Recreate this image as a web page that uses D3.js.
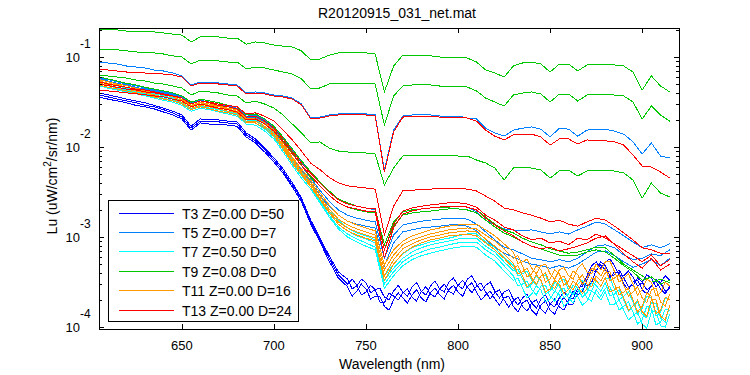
<!DOCTYPE html>
<html><head><meta charset="utf-8">
<script src="https://cdn.jsdelivr.net/npm/d3@7"></script>
<style>body{margin:0;background:#fff}text{font-family:"Liberation Sans",Arial,Helvetica,sans-serif}</style>
</head><body>
<svg id="chart" width="750" height="375"></svg>
<script>
// ---- data (Lu, uW/cm^2/sr/nm) ----
const wavelength = [605,610,615,620,625,630,635,640,645,650,655,660,665,670,675,680,685,690,695,700,705,710,715,720,725,730,735,740,745,750,755,760,765,770,775,780,785,790,795,800,805,810,815,820,825,830,835,840,845,850,855,860,865,870,875,880,885,890,895,900,905,910,915];
// extra samples between grid points where the low casts are noisy
const midWavelengthT3 = [742.5,747.5,752.5,757.5,762.5,767.5,772.5,777.5,782.5,787.5,792.5,797.5,802.5,807.5,812.5,817.5,822.5,827.5,832.5,837.5,842.5,847.5,852.5,857.5,862.5,867.5,872.5,877.5,882.5,887.5,892.5,897.5,902.5,907.5,912.5];
const midWavelengthTail = [832.5,837.5,842.5,847.5,852.5,857.5,862.5,867.5,872.5,877.5,882.5,887.5,892.5,897.5,902.5,907.5,912.5];

const t3_a = [4.0e-2,3.8e-2,3.6e-2,3.4e-2,3.25e-2,3.1e-2,2.9e-2,2.7e-2,2.5e-2,2.27e-2,1.7e-2,2.05e-2,2.0e-2,2.0e-2,1.94e-2,1.9e-2,1.43e-2,1.23e-2,9.7e-3,7.6e-3,5.7e-3,4.0e-3,2.7e-3,1.54e-3,9.7e-4,6.2e-4,4.1e-4,3.4e-4,2.85e-4,3.1e-4,2.6e-4,2.15e-4,2.5e-4,2.45e-4,2.8e-4,2.5e-4,2.85e-4,2.65e-4,3.15e-4,2.9e-4,3.4e-4,3.0e-4,2.9e-4,2.5e-4,2.45e-4,2.05e-4,2.1e-4,1.85e-4,2.05e-4,1.8e-4,2.1e-4,2.1e-4,2.7e-4,3.7e-4,5.3e-4,5.3e-4,4.8e-4,3.7e-4,3.6e-4,3.1e-4,3.5e-4,3.1e-4,3.3e-4];
const t3_b = [3.8e-2,3.6e-2,3.4e-2,3.25e-2,3.1e-2,2.9e-2,2.8e-2,2.6e-2,2.4e-2,2.15e-2,1.62e-2,1.94e-2,1.9e-2,1.9e-2,1.85e-2,1.8e-2,1.36e-2,1.17e-2,9.3e-3,7.2e-3,5.4e-3,3.8e-3,2.6e-3,1.47e-3,9.3e-4,5.8e-4,3.8e-4,3.0e-4,2.9e-4,2.45e-4,2.6e-4,1.85e-4,2.2e-4,2.4e-4,2.15e-4,2.45e-4,2.33e-4,2.65e-4,2.5e-4,2.9e-4,2.8e-4,2.85e-4,2.45e-4,2.4e-4,2.0e-4,1.94e-4,1.7e-4,1.85e-4,1.58e-4,1.8e-4,1.67e-4,2.0e-4,2.27e-4,3.3e-4,4.1e-4,4.8e-4,3.8e-4,3.5e-4,2.9e-4,3.15e-4,2.8e-4,3.1e-4,2.7e-4];
const t3_c = [3.6e-2,3.4e-2,3.25e-2,3.1e-2,2.9e-2,2.8e-2,2.65e-2,2.45e-2,2.27e-2,2.05e-2,1.54e-2,1.85e-2,1.8e-2,1.8e-2,1.75e-2,1.7e-2,1.29e-2,1.11e-2,8.8e-3,6.8e-3,5.1e-3,3.6e-3,2.45e-3,1.39e-3,8.8e-4,5.4e-4,3.5e-4,2.8e-4,2.5e-4,2.65e-4,2.2e-4,1.7e-4,2.0e-4,2.1e-4,2.27e-4,2.1e-4,2.4e-4,2.27e-4,2.6e-4,2.45e-4,2.8e-4,2.45e-4,2.27e-4,2.05e-4,2.1e-4,1.7e-4,1.85e-4,1.54e-4,1.75e-4,1.54e-4,1.8e-4,1.8e-4,2.45e-4,2.85e-4,4.3e-4,4.3e-4,4.1e-4,3.0e-4,3.15e-4,2.6e-4,2.9e-4,2.65e-4,2.85e-4];
const t3_a_mid = [2.65e-4,3.4e-4,2.4e-4,2.7e-4,2.0e-4,2.9e-4,2.2e-4,3.1e-4,2.27e-4,3.25e-4,2.45e-4,3.5e-4,2.65e-4,3.7e-4,2.5e-4,3.15e-4,2.1e-4,2.6e-4,1.75e-4,2.33e-4,1.62e-4,2.27e-4,1.67e-4,2.45e-4,2.05e-4,2.85e-4,4.8e-4,4.5e-4,5.7e-4,3.7e-4,4.2e-4,2.85e-4,3.8e-4,2.8e-4,3.7e-4];
const t3_b_mid = [3.4e-4,2.27e-4,2.9e-4,1.9e-4,2.4e-4,2.0e-4,2.65e-4,1.94e-4,2.8e-4,2.15e-4,3.0e-4,2.33e-4,3.3e-4,2.4e-4,3.1e-4,2.05e-4,2.6e-4,1.67e-4,2.15e-4,1.5e-4,2.0e-4,1.43e-4,2.05e-4,1.54e-4,2.5e-4,2.45e-4,4.3e-4,5.3e-4,3.7e-4,4.3e-4,2.8e-4,3.5e-4,2.6e-4,3.4e-4,2.5e-4];
const t3_c_mid = [2.2e-4,3.0e-4,2.05e-4,2.2e-4,1.54e-4,2.4e-4,1.85e-4,2.6e-4,1.9e-4,2.7e-4,2.05e-4,2.9e-4,2.2e-4,3.1e-4,2.0e-4,2.5e-4,1.75e-4,2.2e-4,1.47e-4,2.0e-4,1.36e-4,1.94e-4,1.39e-4,2.15e-4,1.8e-4,3.15e-4,3.1e-4,4.9e-4,3.5e-4,4.0e-4,2.6e-4,3.3e-4,2.33e-4,3.25e-4,2.33e-4];

const t5_a = [0.088,0.0858,0.0836,0.0794,0.0774,0.0755,0.0717,0.0699,0.0664,0.0615,0.0489,0.0527,0.0527,0.0514,0.0501,0.0489,0.0398,0.0409,0.0398,0.0378,0.0369,0.035,0.030,0.021,0.0215,0.0227,0.0233,0.0233,0.0233,0.0233,0.0227,0.00555,0.0154,0.0221,0.0227,0.0227,0.0227,0.0221,0.0221,0.0221,0.021,0.0205,0.0162,0.0143,0.0132,0.0154,0.0162,0.0167,0.0158,0.0129,0.0162,0.0158,0.0132,0.0154,0.0158,0.0158,0.015,0.0139,0.0114,0.00836,0.0111,0.00794,0.00755];
const t5_b = [5.8e-2,5.6e-2,5.3e-2,5.0e-2,4.8e-2,4.5e-2,4.3e-2,4.1e-2,3.9e-2,3.6e-2,3.1e-2,3.3e-2,3.15e-2,3.0e-2,2.85e-2,2.7e-2,2.2e-2,2.27e-2,2.0e-2,1.67e-2,1.26e-2,9.3e-3,6.8e-3,5.1e-3,4.1e-3,3.25e-3,2.65e-3,2.4e-3,2.2e-3,2.1e-3,2.0e-3,8.2e-4,1.47e-3,1.9e-3,2.0e-3,2.05e-3,2.1e-3,2.15e-3,2.2e-3,2.2e-3,2.15e-3,1.9e-3,1.54e-3,1.36e-3,1.23e-3,1.2e-3,1.17e-3,1.2e-3,1.14e-3,1.08e-3,1.14e-3,1.08e-3,1.2e-3,1.32e-3,1.47e-3,1.39e-3,1.2e-3,1.03e-3,8.8e-4,7.6e-4,8.2e-4,7.6e-4,8.4e-4];
const t5_c = [5.7e-2,5.4e-2,5.1e-2,4.9e-2,4.6e-2,4.4e-2,4.2e-2,4.0e-2,3.8e-2,3.5e-2,3.0e-2,3.25e-2,3.1e-2,2.9e-2,2.8e-2,2.65e-2,2.15e-2,2.2e-2,1.9e-2,1.58e-2,1.17e-2,8.4e-3,6.2e-3,4.5e-3,3.3e-3,2.5e-3,2.0e-3,1.75e-3,1.62e-3,1.54e-3,1.47e-3,5.8e-4,1.05e-3,1.36e-3,1.43e-3,1.5e-3,1.54e-3,1.58e-3,1.62e-3,1.62e-3,1.58e-3,1.39e-3,1.14e-3,9.3e-4,7.7e-4,7.2e-4,6.5e-4,5.8e-4,5.6e-4,5.3e-4,5.6e-4,5.3e-4,5.8e-4,6.8e-4,7.9e-4,8.2e-4,7.6e-4,6.3e-4,5.6e-4,5.8e-4,6.5e-4,6.2e-4,7.2e-4];
const t5_d = [5.6e-2,5.3e-2,5.0e-2,4.8e-2,4.5e-2,4.3e-2,4.1e-2,3.9e-2,3.7e-2,3.4e-2,2.9e-2,3.15e-2,3.0e-2,2.85e-2,2.7e-2,2.6e-2,2.1e-2,2.15e-2,1.85e-2,1.5e-2,1.11e-2,7.7e-3,5.6e-3,4.1e-3,2.9e-3,2.2e-3,1.75e-3,1.5e-3,1.39e-3,1.32e-3,1.26e-3,4.8e-4,8.6e-4,1.14e-3,1.2e-3,1.26e-3,1.29e-3,1.32e-3,1.36e-3,1.36e-3,1.32e-3,1.17e-3,9.3e-4,7.7e-4,6.6e-4,6.0e-4,5.4e-4,5.0e-4,4.8e-4,4.5e-4,4.8e-4,4.5e-4,5.0e-4,5.8e-4,6.8e-4,7.0e-4,6.2e-4,5.3e-4,4.6e-4,5.0e-4,5.6e-4,4.8e-4,5.8e-4];

const t7_a = [5.4e-2,5.1e-2,4.9e-2,4.6e-2,4.4e-2,4.2e-2,4.0e-2,3.8e-2,3.6e-2,3.3e-2,2.85e-2,3.1e-2,2.9e-2,2.8e-2,2.65e-2,2.5e-2,2.05e-2,2.0e-2,1.7e-2,1.43e-2,1.03e-2,7.2e-3,5.3e-3,4.0e-3,2.85e-3,2.05e-3,1.54e-3,1.26e-3,1.11e-3,1.03e-3,9.3e-4,3.7e-4,5.0e-4,6.5e-4,7.6e-4,8.2e-4,8.8e-4,9.3e-4,9.7e-4,1.03e-3,1.08e-3,1.08e-3,8.8e-4,7.6e-4,6.0e-4,4.8e-4,3.9e-4,3.3e-4,3.7e-4,2.85e-4,3.15e-4,2.6e-4,3.0e-4,2.65e-4,3.3e-4,3.5e-4,2.6e-4,2.2e-4,1.9e-4,1.62e-4,2.1e-4,1.47e-4,2.0e-4];
const t7_b = [5.3e-2,5.0e-2,4.8e-2,4.5e-2,4.3e-2,4.1e-2,3.9e-2,3.7e-2,3.5e-2,3.25e-2,2.8e-2,3.0e-2,2.85e-2,2.7e-2,2.6e-2,2.45e-2,2.0e-2,1.94e-2,1.67e-2,1.36e-2,9.7e-3,6.8e-3,5.0e-3,3.8e-3,2.65e-3,1.9e-3,1.39e-3,1.17e-3,1.03e-3,9.5e-4,8.6e-4,3.3e-4,4.5e-4,5.8e-4,6.8e-4,7.6e-4,8.2e-4,8.6e-4,9.0e-4,9.5e-4,9.7e-4,9.7e-4,7.9e-4,6.8e-4,5.3e-4,4.2e-4,3.4e-4,3.0e-4,3.25e-4,2.5e-4,2.85e-4,2.33e-4,2.7e-4,2.4e-4,2.9e-4,3.1e-4,2.33e-4,2.0e-4,1.7e-4,1.39e-4,1.85e-4,1.26e-4,1.75e-4];
const t7_c = [5.0e-2,4.8e-2,4.5e-2,4.3e-2,4.1e-2,3.9e-2,3.7e-2,3.5e-2,3.3e-2,3.1e-2,2.65e-2,2.85e-2,2.7e-2,2.6e-2,2.45e-2,2.33e-2,1.9e-2,1.85e-2,1.58e-2,1.29e-2,9.3e-3,6.5e-3,4.8e-3,3.6e-3,2.5e-3,1.75e-3,1.29e-3,1.08e-3,9.5e-4,8.6e-4,7.7e-4,3.0e-4,4.1e-4,5.3e-4,6.2e-4,6.8e-4,7.4e-4,7.7e-4,8.2e-4,8.6e-4,8.8e-4,8.8e-4,7.2e-4,6.2e-4,4.8e-4,3.7e-4,3.0e-4,2.6e-4,2.85e-4,2.2e-4,2.5e-4,2.1e-4,2.45e-4,2.1e-4,2.6e-4,2.7e-4,2.05e-4,1.7e-4,1.47e-4,1.2e-4,1.62e-4,1.14e-4,1.54e-4];
const t7_d = [4.8e-2,4.5e-2,4.3e-2,4.1e-2,3.9e-2,3.7e-2,3.5e-2,3.3e-2,3.15e-2,2.9e-2,2.5e-2,2.7e-2,2.6e-2,2.45e-2,2.33e-2,2.2e-2,1.8e-2,1.75e-2,1.5e-2,1.23e-2,8.8e-3,6.2e-3,4.5e-3,3.4e-3,2.4e-3,1.67e-3,1.23e-3,1.0e-3,8.8e-4,7.9e-4,7.2e-4,2.7e-4,3.7e-4,4.8e-4,5.6e-4,6.2e-4,6.6e-4,7.0e-4,7.4e-4,7.7e-4,7.9e-4,7.7e-4,6.3e-4,5.4e-4,4.2e-4,3.3e-4,2.7e-4,2.33e-4,2.6e-4,2.05e-4,2.27e-4,1.9e-4,2.2e-4,1.94e-4,2.33e-4,2.45e-4,1.8e-4,1.54e-4,1.32e-4,1.08e-4,1.47e-4,1.03e-4,1.39e-4];
const t7_a_mid = [3.7e-4,4.2e-4,2.9e-4,3.8e-4,2.45e-4,3.4e-4,2.27e-4,3.3e-4,2.5e-4,2.85e-4,3.5e-4,2.0e-4,2.45e-4,1.39e-4,2.2e-4,1.32e-4,2.1e-4];
const t7_b_mid = [4.4e-4,2.7e-4,3.7e-4,2.33e-4,3.15e-4,2.1e-4,2.9e-4,2.15e-4,3.1e-4,2.5e-4,2.2e-4,2.6e-4,1.5e-4,1.9e-4,1.26e-4,1.8e-4,1.14e-4];
const t7_c_mid = [2.85e-4,3.25e-4,2.27e-4,2.9e-4,1.94e-4,2.7e-4,1.85e-4,2.65e-4,1.94e-4,2.2e-4,2.8e-4,1.54e-4,1.9e-4,1.08e-4,1.7e-4,1.05e-4,1.58e-4];
const t7_d_mid = [3.5e-4,2.1e-4,2.85e-4,1.9e-4,2.5e-4,1.7e-4,2.4e-4,1.75e-4,2.5e-4,2.0e-4,1.75e-4,2.0e-4,1.2e-4,1.47e-4,9.7e-5,1.5e-4,1.0e-4];

const t9_a = [0.205,0.200,0.200,0.194,0.194,0.190,0.190,0.185,0.180,0.175,0.147,0.167,0.167,0.167,0.162,0.162,0.139,0.147,0.143,0.136,0.132,0.129,0.117,0.0926,0.095,0.105,0.111,0.111,0.111,0.111,0.108,0.0409,0.0794,0.105,0.105,0.103,0.103,0.100,0.100,0.0975,0.0975,0.088,0.0717,0.0664,0.0599,0.0794,0.0858,0.088,0.0836,0.0681,0.0836,0.0836,0.0699,0.0815,0.0836,0.0836,0.0815,0.0794,0.0681,0.0430,0.0615,0.0476,0.0409];
const t9_b = [0.123,0.120,0.120,0.117,0.114,0.111,0.111,0.108,0.103,0.100,0.0836,0.0926,0.0926,0.0903,0.088,0.088,0.0736,0.0774,0.0755,0.0717,0.0681,0.0647,0.057,0.0441,0.0453,0.0501,0.0514,0.0514,0.0514,0.0514,0.0501,0.0175,0.0369,0.0476,0.0489,0.0489,0.0489,0.0476,0.0476,0.0476,0.0464,0.0419,0.035,0.0316,0.0285,0.0378,0.0398,0.0409,0.0388,0.0316,0.0388,0.0388,0.0324,0.0378,0.0388,0.0388,0.0378,0.0369,0.0316,0.0205,0.0285,0.0227,0.0194];
const t9_c = [0.0631,0.0615,0.0599,0.0584,0.0555,0.0541,0.0514,0.0501,0.0476,0.0453,0.0378,0.0419,0.0409,0.0398,0.0378,0.0369,0.0308,0.0324,0.030,0.0271,0.0227,0.018,0.0143,0.0111,0.0114,0.00975,0.00903,0.0088,0.0088,0.00858,0.00836,0.00378,0.00584,0.00794,0.00815,0.00815,0.00815,0.00815,0.00815,0.00794,0.00794,0.00717,0.00664,0.00584,0.0043,0.00584,0.00599,0.00584,0.00555,0.00453,0.00541,0.00555,0.00476,0.00541,0.00555,0.00555,0.00541,0.00514,0.0043,0.00271,0.00398,0.00308,0.00278];
const t9_d = [6.0e-2,5.7e-2,5.4e-2,5.1e-2,4.9e-2,4.6e-2,4.4e-2,4.2e-2,4.0e-2,3.7e-2,3.15e-2,3.4e-2,3.25e-2,3.1e-2,2.9e-2,2.8e-2,2.27e-2,2.33e-2,2.05e-2,1.7e-2,1.29e-2,9.5e-3,7.0e-3,5.3e-3,4.1e-3,3.25e-3,2.65e-3,2.4e-3,2.2e-3,2.1e-3,2.05e-3,8.2e-4,1.47e-3,1.9e-3,2.0e-3,2.05e-3,2.1e-3,2.15e-3,2.15e-3,2.2e-3,2.15e-3,2.0e-3,1.67e-3,1.39e-3,1.2e-3,1.11e-3,9.7e-4,8.8e-4,8.2e-4,7.4e-4,7.0e-4,6.6e-4,6.8e-4,7.2e-4,7.7e-4,7.6e-4,6.2e-4,5.0e-4,4.3e-4,3.7e-4,3.15e-4,3.4e-4,3.1e-4];
const t9_e = [5.6e-2,5.3e-2,5.0e-2,4.8e-2,4.5e-2,4.3e-2,4.1e-2,3.9e-2,3.7e-2,3.4e-2,2.85e-2,3.1e-2,2.9e-2,2.8e-2,2.65e-2,2.5e-2,2.05e-2,2.1e-2,1.85e-2,1.54e-2,1.17e-2,8.6e-3,6.3e-3,4.6e-3,3.7e-3,2.9e-3,2.4e-3,2.15e-3,2.0e-3,1.9e-3,1.85e-3,7.2e-4,1.32e-3,1.75e-3,1.85e-3,1.9e-3,1.94e-3,2.0e-3,2.05e-3,2.05e-3,2.0e-3,1.85e-3,1.54e-3,1.29e-3,1.11e-3,1.0e-3,8.8e-4,7.9e-4,7.4e-4,6.8e-4,6.3e-4,6.2e-4,6.3e-4,6.8e-4,7.2e-4,6.8e-4,5.8e-4,4.8e-4,4.1e-4,3.3e-4,3.6e-4,3.0e-4,3.3e-4];

const t11_a = [5.6e-2,5.3e-2,5.0e-2,4.8e-2,4.5e-2,4.3e-2,4.1e-2,3.9e-2,3.7e-2,3.4e-2,2.9e-2,3.15e-2,3.0e-2,2.85e-2,2.7e-2,2.6e-2,2.1e-2,2.1e-2,1.85e-2,1.54e-2,1.11e-2,7.7e-3,5.7e-3,4.3e-3,3.1e-3,2.27e-3,1.75e-3,1.5e-3,1.36e-3,1.26e-3,1.17e-3,4.9e-4,7.2e-4,9.0e-4,1.03e-3,1.11e-3,1.2e-3,1.26e-3,1.32e-3,1.36e-3,1.39e-3,1.39e-3,1.2e-3,1.03e-3,8.4e-4,6.8e-4,5.3e-4,4.5e-4,4.8e-4,3.9e-4,4.3e-4,3.7e-4,4.5e-4,4.1e-4,5.0e-4,5.3e-4,4.1e-4,3.5e-4,3.0e-4,2.6e-4,3.15e-4,2.4e-4,2.85e-4];
const t11_b = [5.4e-2,5.1e-2,4.9e-2,4.6e-2,4.4e-2,4.2e-2,4.0e-2,3.8e-2,3.6e-2,3.3e-2,2.85e-2,3.1e-2,2.9e-2,2.8e-2,2.65e-2,2.5e-2,2.05e-2,2.05e-2,1.8e-2,1.47e-2,1.05e-2,7.4e-3,5.4e-3,4.0e-3,2.85e-3,2.05e-3,1.58e-3,1.36e-3,1.23e-3,1.14e-3,1.05e-3,4.3e-4,6.3e-4,8.2e-4,9.3e-4,1.0e-3,1.08e-3,1.14e-3,1.2e-3,1.23e-3,1.26e-3,1.23e-3,1.05e-3,9.0e-4,7.4e-4,5.8e-4,4.8e-4,3.9e-4,4.3e-4,3.4e-4,3.9e-4,3.25e-4,3.8e-4,3.4e-4,4.3e-4,4.5e-4,3.5e-4,2.9e-4,2.45e-4,2.1e-4,2.6e-4,1.9e-4,2.33e-4];
const t11_c = [5.1e-2,4.9e-2,4.6e-2,4.4e-2,4.2e-2,4.0e-2,3.8e-2,3.6e-2,3.4e-2,3.15e-2,2.7e-2,2.9e-2,2.8e-2,2.65e-2,2.5e-2,2.4e-2,1.94e-2,1.94e-2,1.7e-2,1.39e-2,1.0e-2,7.0e-3,5.1e-3,3.8e-3,2.7e-3,1.94e-3,1.47e-3,1.26e-3,1.14e-3,1.05e-3,9.7e-4,3.7e-4,5.6e-4,7.4e-4,8.4e-4,9.3e-4,1.0e-3,1.05e-3,1.11e-3,1.14e-3,1.17e-3,1.14e-3,9.5e-4,7.9e-4,6.5e-4,5.1e-4,4.1e-4,3.5e-4,3.7e-4,3.0e-4,3.4e-4,2.85e-4,3.3e-4,3.0e-4,3.7e-4,4.0e-4,3.0e-4,2.45e-4,2.0e-4,1.7e-4,2.2e-4,1.54e-4,2.0e-4];
const t11_d = [4.9e-2,4.6e-2,4.4e-2,4.2e-2,4.0e-2,3.8e-2,3.6e-2,3.4e-2,3.25e-2,3.0e-2,2.6e-2,2.8e-2,2.65e-2,2.5e-2,2.4e-2,2.27e-2,1.85e-2,1.85e-2,1.62e-2,1.32e-2,9.5e-3,6.6e-3,4.9e-3,3.6e-3,2.6e-3,1.85e-3,1.39e-3,1.17e-3,1.05e-3,9.7e-4,9.0e-4,3.3e-4,5.0e-4,6.6e-4,7.7e-4,8.6e-4,9.3e-4,9.7e-4,1.03e-3,1.05e-3,1.08e-3,1.03e-3,8.6e-4,7.2e-4,5.8e-4,4.5e-4,3.7e-4,3.1e-4,3.3e-4,2.65e-4,3.0e-4,2.6e-4,2.9e-4,2.65e-4,3.3e-4,3.5e-4,2.6e-4,2.1e-4,1.7e-4,1.47e-4,2.0e-4,1.32e-4,1.75e-4];
const t11_a_mid = [5.1e-4,5.7e-4,3.9e-4,5.0e-4,3.4e-4,4.6e-4,3.4e-4,5.0e-4,3.9e-4,4.3e-4,5.4e-4,3.15e-4,3.9e-4,2.27e-4,3.4e-4,2.2e-4,3.15e-4];
const t11_b_mid = [6.2e-4,3.6e-4,4.8e-4,3.15e-4,4.3e-4,2.9e-4,4.2e-4,3.0e-4,4.5e-4,3.7e-4,3.25e-4,3.8e-4,2.2e-4,2.8e-4,1.85e-4,2.7e-4,1.7e-4];
const t11_c_mid = [3.9e-4,4.5e-4,3.0e-4,4.0e-4,2.65e-4,3.7e-4,2.6e-4,3.8e-4,2.8e-4,3.25e-4,4.1e-4,2.27e-4,2.7e-4,1.47e-4,2.4e-4,1.39e-4,2.15e-4];
const t11_d_mid = [4.8e-4,2.8e-4,3.8e-4,2.45e-4,3.3e-4,2.33e-4,3.25e-4,2.33e-4,3.5e-4,2.85e-4,2.45e-4,2.8e-4,1.54e-4,2.0e-4,1.32e-4,2.0e-4,1.2e-4];

const t13_a = [0.0736,0.0717,0.0699,0.0681,0.0681,0.0664,0.0664,0.0647,0.0631,0.0599,0.0476,0.0514,0.0514,0.0501,0.0489,0.0476,0.0388,0.0398,0.0388,0.0369,0.0359,0.0341,0.0293,0.0205,0.021,0.0221,0.0227,0.0227,0.0227,0.0227,0.0221,0.00527,0.0147,0.0215,0.0221,0.0221,0.0221,0.0215,0.0215,0.0215,0.021,0.0194,0.0154,0.0132,0.012,0.0136,0.0139,0.0139,0.0129,0.0105,0.0123,0.0123,0.0108,0.012,0.0117,0.0117,0.0114,0.0105,0.00815,0.00615,0.00599,0.00527,0.00453];
const t13_b = [5.0e-2,4.8e-2,4.6e-2,4.4e-2,4.3e-2,4.1e-2,4.0e-2,3.8e-2,3.7e-2,3.5e-2,3.0e-2,3.25e-2,3.15e-2,3.0e-2,2.9e-2,2.8e-2,2.33e-2,2.4e-2,2.2e-2,1.94e-2,1.54e-2,1.2e-2,9.0e-3,6.6e-3,5.6e-3,4.6e-3,4.0e-3,3.7e-3,3.6e-3,3.5e-3,3.4e-3,1.05e-3,2.2e-3,3.25e-3,3.3e-3,3.4e-3,3.4e-3,3.5e-3,3.5e-3,3.5e-3,3.4e-3,3.25e-3,2.85e-3,2.5e-3,2.1e-3,2.0e-3,1.85e-3,1.75e-3,1.62e-3,1.47e-3,1.54e-3,1.39e-3,1.32e-3,1.47e-3,1.62e-3,1.54e-3,1.32e-3,1.11e-3,9.3e-4,7.6e-4,7.2e-4,6.6e-4,6.6e-4];
const t13_c = [5.3e-2,5.0e-2,4.8e-2,4.6e-2,4.4e-2,4.3e-2,4.1e-2,3.9e-2,3.7e-2,3.5e-2,3.0e-2,3.25e-2,3.1e-2,2.9e-2,2.8e-2,2.65e-2,2.15e-2,2.2e-2,1.94e-2,1.62e-2,1.23e-2,9.0e-3,6.6e-3,5.1e-3,4.0e-3,3.15e-3,2.6e-3,2.33e-3,2.2e-3,2.1e-3,2.05e-3,7.2e-4,1.39e-3,1.94e-3,2.1e-3,2.2e-3,2.27e-3,2.33e-3,2.4e-3,2.4e-3,2.33e-3,2.15e-3,1.75e-3,1.54e-3,1.29e-3,1.2e-3,1.03e-3,9.3e-4,9.7e-4,8.6e-4,9.0e-4,8.2e-4,9.7e-4,9.3e-4,1.08e-3,9.7e-4,8.4e-4,7.2e-4,6.2e-4,5.3e-4,6.3e-4,4.8e-4,5.6e-4];
const t13_d = [4.3e-2,4.2e-2,4.1e-2,4.0e-2,3.9e-2,3.8e-2,3.7e-2,3.6e-2,3.4e-2,3.25e-2,2.8e-2,3.0e-2,2.85e-2,2.7e-2,2.6e-2,2.45e-2,2.0e-2,2.05e-2,1.8e-2,1.5e-2,1.14e-2,8.4e-3,6.2e-3,4.8e-3,3.7e-3,2.9e-3,2.4e-3,2.15e-3,2.05e-3,1.94e-3,1.9e-3,5.8e-4,1.26e-3,1.8e-3,1.94e-3,2.05e-3,2.1e-3,2.15e-3,2.2e-3,2.2e-3,2.15e-3,2.0e-3,1.62e-3,1.36e-3,1.17e-3,1.03e-3,8.8e-4,7.9e-4,7.4e-4,7.7e-4,7.0e-4,7.4e-4,7.9e-4,8.6e-4,9.7e-4,1.03e-3,8.2e-4,6.5e-4,5.3e-4,4.5e-4,5.8e-4,4.3e-4,5.0e-4];

const seriesNames = ["T3 Z=0.00 D=50","T5 Z=0.00 D=7","T7 Z=0.50 D=0","T9 Z=0.08 D=0","T11 Z=0.00 D=16","T13 Z=0.00 D=24"];
const seriesCasts = [[t3_a,t3_b,t3_c],[t5_a,t5_b,t5_c,t5_d],[t7_a,t7_b,t7_c,t7_d],[t9_a,t9_b,t9_c,t9_d,t9_e],[t11_a,t11_b,t11_c,t11_d],[t13_a,t13_b,t13_c,t13_d]];
const seriesMidCasts = [[t3_a_mid,t3_b_mid,t3_c_mid],[],[t7_a_mid,t7_b_mid,t7_c_mid,t7_d_mid],[],[t11_a_mid,t11_b_mid,t11_c_mid,t11_d_mid],[]];
const seriesMidGrid = [midWavelengthT3,null,midWavelengthTail,null,midWavelengthTail,null];
const xTickValues = [650,700,750,800,850,900];
const yDecades = [1e-4,1e-3,1e-2,1e-1];
const yDecadeExponents = ["-4","-3","-2","-1"];
const titleText = "R20120915_031_net.mat";
const xLabelText = "Wavelength (nm)";

// ---- styles ----
const seriesColors = ["#0000ff","#0080ff","#00ffff","#00c800","#ff9900","#ff0000"];

// ---- layout ----
const L = 99, R = 679, T = 28, B = 329;
const svg = d3.select("#chart");
svg.append("rect").attr("width",750).attr("height",375).attr("fill","#fff");

const x = d3.scaleLinear().domain([605, 920]).range([L, R]);
const y = d3.scaleLog().domain([9.5012e-5, 0.21006]).range([B, T]);

svg.append("defs").append("clipPath").attr("id","clip")
  .append("rect").attr("x",L).attr("y",T).attr("width",R-L+1).attr("height",B-T+1);

const plot = svg.append("g").attr("clip-path","url(#clip)");
const line = d3.line().x(d=>x(d[0])).y(d=>y(d[1]));
seriesCasts.forEach((casts, si) => {
  casts.forEach((c, ci) => {
    let pts = wavelength.map((w,i)=>[w, c[i]]);
    const mid = seriesMidCasts[si][ci];
    if (mid) pts = pts.concat(seriesMidGrid[si].map((w,i)=>[w, mid[i]]));
    pts.sort((a,b)=>a[0]-b[0]);
    plot.append("path").attr("d", line(pts)).attr("fill","none")
      .attr("stroke", seriesColors[si]).attr("stroke-width",1)
      .attr("shape-rendering","crispEdges");
  });
});

// minor ticks
const yMinor = [];
[1e-4,1e-3,1e-2,1e-1].forEach(dec => { for (let k=2;k<=9;k++){ const v=k*dec; if (v>=y.domain()[0] && v<=y.domain()[1]) yMinor.push(v);} });

function styleAxis(g){ g.select(".domain").remove(); g.selectAll("line").attr("stroke","#000").attr("shape-rendering","crispEdges"); g.selectAll("text").remove(); }

svg.append("g").attr("transform",`translate(0,${B})`).call(d3.axisBottom(x).tickValues(xTickValues).tickSizeInner(-5).tickSizeOuter(0)).call(styleAxis);
svg.append("g").attr("transform",`translate(0,${T})`).call(d3.axisTop(x).tickValues(xTickValues).tickSizeInner(-5).tickSizeOuter(0)).call(styleAxis);
svg.append("g").attr("transform",`translate(${L},0)`).call(d3.axisLeft(y).tickValues(yDecades).tickSizeInner(-5).tickSizeOuter(0)).call(styleAxis);
svg.append("g").attr("transform",`translate(${L},0)`).call(d3.axisLeft(y).tickValues(yMinor).tickSizeInner(-3).tickSizeOuter(0)).call(styleAxis);
svg.append("g").attr("transform",`translate(${R},0)`).call(d3.axisRight(y).tickValues(yDecades).tickSizeInner(-5).tickSizeOuter(0)).call(styleAxis);
svg.append("g").attr("transform",`translate(${R},0)`).call(d3.axisRight(y).tickValues(yMinor).tickSizeInner(-3).tickSizeOuter(0)).call(styleAxis);

// frame
svg.append("rect").attr("x",L+0.5).attr("y",T+0.5).attr("width",R-L).attr("height",B-T)
  .attr("fill","none").attr("stroke","#000").attr("stroke-width",1).attr("shape-rendering","crispEdges");

// x tick labels
svg.append("g").selectAll("text").data(xTickValues).join("text")
  .attr("x", d=>x(d)).attr("y", 350).attr("text-anchor","middle")
  .attr("font-size",13).attr("fill","#000").text(d=>d);

// y tick labels (10^n)
yDecades.forEach((v,i) => {
  const py = y(v);
  svg.append("text").attr("x",80).attr("y",py+4.5).attr("text-anchor","end")
    .attr("font-size",13).attr("fill","#000").text("10");
  svg.append("text").attr("x",80).attr("y",py-9.5).attr("text-anchor","start")
    .attr("font-size",12).attr("fill","#000").text(yDecadeExponents[i]);
});

// title & labels
svg.append("text").attr("x",397).attr("y",18).attr("text-anchor","middle")
  .attr("font-size",14).attr("fill","#000").text(titleText);
svg.append("text").attr("x",392).attr("y",369).attr("text-anchor","middle")
  .attr("font-size",14).attr("fill","#000").text(xLabelText);
const yl = svg.append("text").attr("transform","translate(57,176) rotate(-90)")
  .attr("text-anchor","middle").attr("font-size",14).attr("fill","#000");
yl.append("tspan").text("Lu (uW/cm");
yl.append("tspan").attr("dy",-6).attr("font-size",10).text("2");
yl.append("tspan").attr("dy",6).text("/sr/nm)");

// legend
const lg = svg.append("g");
lg.append("rect").attr("x",108.5).attr("y",200.5).attr("width",190).attr("height",121)
  .attr("fill","#fff").attr("stroke","#000").attr("stroke-width",1).attr("shape-rendering","crispEdges");
seriesNames.forEach((name,i) => {
  const cy = Math.round(212.5 + i*19.4) + 0.5;
  lg.append("line").attr("x1",119).attr("x2",174).attr("y1",cy).attr("y2",cy)
    .attr("stroke",seriesColors[i]).attr("stroke-width",1).attr("shape-rendering","crispEdges");
  lg.append("text").attr("x",182).attr("y",cy+5).attr("font-size",14).attr("fill","#000").text(name);
});
</script>
</body></html>
